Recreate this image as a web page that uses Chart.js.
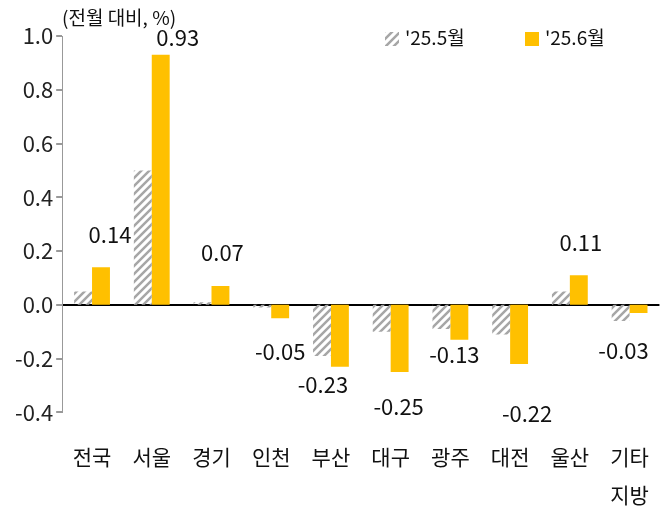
<!DOCTYPE html>
<html><head><meta charset="utf-8">
<script src="https://cdn.jsdelivr.net/npm/chart.js@4"></script>
<style>body{margin:0;background:#fff}#wrap{width:667px;height:532px}</style>
</head><body><div id="wrap"><canvas id="c"></canvas></div>
<script>
const categories = ['전국', '서울', '경기', '인천', '부산', '대구', '광주', '대전', '울산', ['기타', '지방']];
const may = [0.05, 0.50, 0.01, -0.01, -0.19, -0.10, -0.09, -0.11, 0.05, -0.06];
const june = [0.14, 0.93, 0.07, -0.05, -0.23, -0.25, -0.13, -0.22, 0.11, -0.03];
const juneLabels = ['0.14', '0.93', '0.07', '-0.05', '-0.23', '-0.25', '-0.13', '-0.22', '0.11', '-0.03'];

const FONT = "'Noto Sans CJK KR', 'Noto Sans', sans-serif";

function hatch() {
    const p = document.createElement('canvas');
    p.width = 8; p.height = 8;
    const g = p.getContext('2d');
    g.strokeStyle = '#a6a6a6';
    g.lineWidth = 2.5;
    g.beginPath();
    g.moveTo(-2, 10); g.lineTo(10, -2);
    g.moveTo(-2, 2); g.lineTo(2, -2);
    g.moveTo(6, 10); g.lineTo(10, 6);
    g.stroke();
    return g.createPattern(p, 'repeat');
}

// value labels, legend and unit caption
const extras = {
    id: 'extras',
    afterDatasetsDraw(chart) {
        const ctx = chart.ctx;
        // label nudges as in the original layout
        const dx = [9, 17, 2, 0, -17, -1, -5, 8, 2, -15];
        const gap = [22, 6, 22, 22, 7, 24, 4, 39, 22, 27];
        ctx.save();
        ctx.font = '22px ' + FONT;
        ctx.fillStyle = '#111';
        ctx.textAlign = 'center';
        chart.getDatasetMeta(1).data.forEach((bar, i) => {
            const x = bar.x + dx[i];
            if (june[i] >= 0) {
                ctx.textBaseline = 'bottom';
                ctx.fillText(juneLabels[i], x, bar.y - gap[i]);
            } else {
                ctx.textBaseline = 'top';
                ctx.fillText(juneLabels[i], x, bar.y + gap[i]);
            }
        });
        ctx.font = '19px ' + FONT;
        ctx.textAlign = 'left';
        ctx.textBaseline = 'middle';
        ctx.fillText('(전월 대비, %)', 62, 18);
        // legend
        const items = [[hatch(), "'25.5월", 385], ['#ffc000', "'25.6월", 525]];
        items.forEach(([fill, text, x]) => {
            ctx.fillStyle = fill;
            ctx.fillRect(x, 32, 14, 14);
            ctx.fillStyle = '#111';
            ctx.fillText(text, x + 20, 38);
        });
        ctx.restore();
    }
};

new Chart(document.getElementById('c'), {
    type: 'bar',
    data: {
        labels: categories,
        datasets: [
            { label: "'25.5월", data: may, backgroundColor: hatch() },
            { label: "'25.6월", data: june, backgroundColor: '#ffc000' }
        ]
    },
    options: {
        responsive: true,
        maintainAspectRatio: false,
        animation: false,
        categoryPercentage: 0.6,
        barPercentage: 1.0,
        layout: { padding: { top: 36, right: 2, left: 12, bottom: 0 } },
        plugins: {
            legend: { display: false },
            tooltip: { enabled: false }
        },
        scales: {
            x: {
                grid: { display: false },
                border: { display: false },
                ticks: { font: { family: FONT, size: 21, lineHeight: 1.8 }, color: '#111', maxRotation: 0, autoSkip: false, padding: 18 }
            },
            y: {
                min: -0.4,
                max: 1.0,
                ticks: {
                    stepSize: 0.2,
                    font: { family: FONT, size: 22 },
                    color: '#222',
                    callback: v => (Math.abs(v) < 1e-9 ? 0 : v).toFixed(1)
                },
                border: { color: '#999' },
                grid: {
                    color: c => Math.abs(c.tick.value) < 1e-9 ? '#000' : 'rgba(0,0,0,0)',
                    lineWidth: 2,
                    tickColor: '#999',
                    tickLength: 6
                }
            }
        }
    },
    plugins: [extras]
});
</script></body></html>
